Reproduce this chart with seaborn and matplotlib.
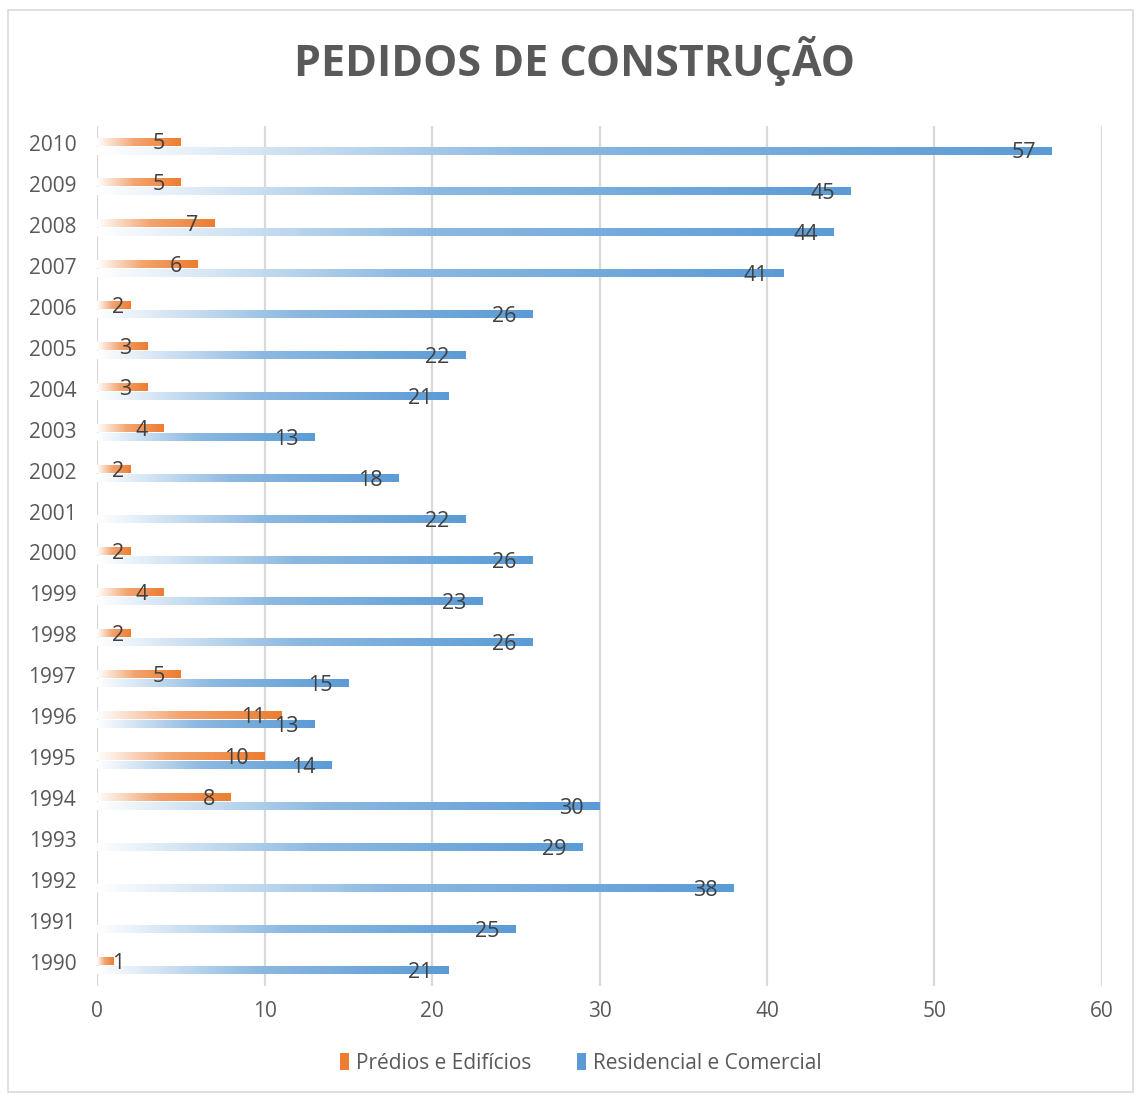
import pandas as pd
import matplotlib.pyplot as plt
import matplotlib.transforms as mtransforms
import numpy as np
import seaborn as sns
from matplotlib.colors import LinearSegmentedColormap, to_rgb
from matplotlib.patches import Patch, Rectangle

#
# Data
#
years = [str(y) for y in range(2010, 1989, -1)]
predios = [5, 5, 7, 6, 2, 3, 3, 4, 2, 0, 2, 4, 2, 5, 11, 10, 8, 0, 0, 0, 1]
residencial = [57, 45, 44, 41, 26, 22, 21, 13, 18, 22, 26, 23, 26, 15, 13, 14, 30, 29, 38, 25, 21]
series = ["Prédios e Edifícios", "Residencial e Comercial"]
colors = ["#ED7D31", "#5B9BD5"]

df = pd.DataFrame({
    "ano": years * 2,
    "serie": [series[0]] * len(years) + [series[1]] * len(years),
    "valor": predios + residencial,
})

#
# Plot
#
sns.set_style("white")
plt.rcParams["font.family"] = ["Open Sans", "DejaVu Sans"]

fig = plt.figure(figsize=(11.39, 10.95), dpi=100)
ax = fig.add_axes([0.0852, 0.0995, 0.8823, 0.7855])

sns.barplot(data=df, y="ano", x="valor", hue="serie", order=years,
            hue_order=series, palette=colors, orient="h",
            width=0.44, gap=0.2, legend=False, ax=ax)


def gradient_cmap(c):
    rgb = np.array(to_rgb(c))
    mid = 1 - 0.7 * (1 - rgb)
    return LinearSegmentedColormap.from_list("g", [(0, (1, 1, 1)), (0.45, mid), (1, rgb)])


ax.set_xlim(0, 60)
ax.set_ylim(len(years) - 0.5, -0.5)

grad = np.linspace(0, 1, 256).reshape(1, -1)
labels = []
for cont, col, vals in zip(ax.containers, colors, [predios, residencial]):
    cmap = gradient_cmap(col)
    for bar, v in zip(cont.patches, vals):
        bar.set_facecolor("none")
        bar.set_edgecolor("none")
        if v <= 0:
            continue
        x0 = bar.get_x()
        y0 = bar.get_y()
        h = bar.get_height()
        ax.imshow(grad, extent=(x0, x0 + bar.get_width(), y0 + h, y0),
                  cmap=cmap, aspect="auto", interpolation="bilinear", zorder=2)
        t = ax.annotate(str(v), (x0 + bar.get_width(), y0 + h / 2), xytext=(-11.5, -1.5),
                        textcoords="offset points", ha="right", va="center",
                        fontsize=15.5, color="#404040", zorder=3)
        labels.append(t)

ax.set_xlim(0, 60)
ax.set_ylim(len(years) - 0.5, -0.5)

# keep short-bar labels from running past the axis start
renderer = fig.canvas.get_renderer()
ax_left = ax.get_window_extent(renderer).x0
for t in labels:
    bb = t.get_window_extent(renderer)
    if bb.x0 < ax_left + 15:
        t.xy = (0, t.xy[1])
        t.set_ha("left")
        t.set_position((15 * 72 / 100, -1.5))

ax.set_xticks(range(0, 61, 10))
ax.grid(axis="x", color="#d9d9d9", linewidth=1.6, zorder=0)
ax.set_axisbelow(True)
ax.tick_params(axis="both", length=0, labelsize=15, labelcolor="#595959")
ax.tick_params(axis="x", pad=11)
ax.tick_params(axis="y", pad=15)
ax.set_xlabel("")
ax.set_ylabel("")
shift = mtransforms.ScaledTranslation(0, 3.5 / 100, fig.dpi_scale_trans)
for lab in ax.get_yticklabels():
    lab.set_transform(lab.get_transform() + shift)
sns.despine(ax=ax, left=True, bottom=True)

fig.suptitle("PEDIDOS DE CONSTRUÇÃO", x=0.504, y=0.967, fontsize=31,
             fontweight="bold", color="#595959")

handles = [Patch(facecolor=c, edgecolor="none") for c in colors]
fig.legend(handles, series, loc="center", bbox_to_anchor=(0.51, 0.029),
           ncol=2, frameon=False, fontsize=15, labelcolor="#595959",
           handlelength=0.4, handleheight=0.9, handletextpad=0.35,
           columnspacing=2.2)

fig.patches.append(Rectangle((0.007, 0.003), 0.988, 0.988, transform=fig.transFigure,
                             fill=False, edgecolor="#d9d9d9", linewidth=1.2))

fig.savefig("out.png", dpi=100)
